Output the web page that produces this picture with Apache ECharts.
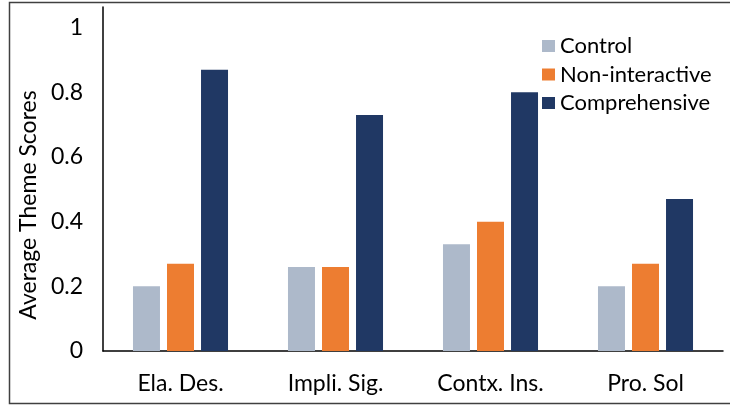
<!DOCTYPE html>
<html>
<head>
<meta charset="utf-8">
<script src="https://cdn.jsdelivr.net/npm/echarts@6/dist/echarts.min.js"></script>
<style>
  html, body { margin: 0; padding: 0; background: #fff; }
  #chart { width: 730px; height: 406px; }
</style>
</head>
<body>
<div id="chart"></div>
<script>
const categories = ['Ela. Des.', 'Impli. Sig.', 'Contx. Ins.', 'Pro. Sol']
const controlScores = [0.20, 0.26, 0.33, 0.20]
const nonInteractiveScores = [0.27, 0.26, 0.40, 0.27]
const comprehensiveScores = [0.87, 0.73, 0.80, 0.47]
const yTicks = [0, 0.2, 0.4, 0.6, 0.8, 1]

const font = 'Lato'
const chart = echarts.init(document.getElementById('chart'))

function barSeries(name, values, color) {
  return {
    name: name,
    type: 'bar',
    data: values,
    barWidth: 27,
    barGap: '26%',
    itemStyle: { color: color }
  }
}

const option = {
  animation: false,
  textStyle: { fontFamily: font },
  graphic: [
    {
      type: 'rect',
      shape: { x: 9.5, y: 2.5, width: 730, height: 401 },
      style: { fill: 'none', stroke: '#404040', lineWidth: 1.5 },
      silent: true
    }
  ],
  grid: { left: 103, right: 7, top: 7, bottom: 55, containLabel: false },
  legend: {
    orient: 'vertical',
    left: 537,
    top: 30,
    itemWidth: 13,
    itemHeight: 12,
    itemGap: 6.5,
    icon: 'rect',
    textStyle: { fontFamily: font, fontSize: 22, lineHeight: 22, color: '#000' },
    data: ['Control', 'Non-interactive', 'Comprehensive']
  },
  xAxis: {
    type: 'category',
    data: categories,
    axisLine: { lineStyle: { color: '#000', width: 1.5 } },
    axisTick: { show: false },
    axisLabel: { fontFamily: font, fontSize: 23, color: '#000', margin: 21 }
  },
  yAxis: {
    type: 'value',
    min: 0,
    max: 1.064,
    interval: 0.2,
    name: 'Average Theme Scores',
    nameLocation: 'middle',
    nameGap: 61,
    nameTextStyle: { fontFamily: font, fontSize: 23, color: '#000', padding: [0, 52, 0, 0] },
    axisLine: { show: true, lineStyle: { color: '#000', width: 1.5 } },
    axisTick: { show: false },
    splitLine: { show: false },
    axisLabel: {
      fontFamily: font,
      fontSize: 23,
      color: '#000',
      margin: 20,
      formatter: function(v) {
        const hit = yTicks.find(t => Math.abs(t - v) < 1e-6)
        return hit === undefined ? '' : String(hit)
      }
    }
  },
  series: [
    barSeries('Control', controlScores, '#ADB9CA'),
    barSeries('Non-interactive', nonInteractiveScores, '#ED7D31'),
    barSeries('Comprehensive', comprehensiveScores, '#203864')
  ]
}

chart.setOption(option)
</script>
</body>
</html>
